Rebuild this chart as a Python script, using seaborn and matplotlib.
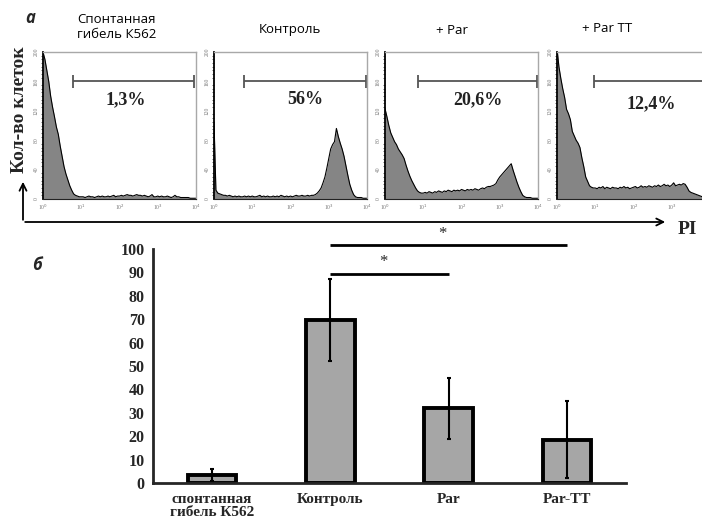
import numpy as np
import pandas as pd
import matplotlib
matplotlib.use('Agg')
import matplotlib.pyplot as plt
import seaborn as sns
from matplotlib.ticker import MultipleLocator, NullLocator, FixedLocator

# --- данные: гистограммы PI (log-шаг 0.05 от 10^0 до 10^4) ---
log_pos = np.round(np.arange(0, 4.001, 0.05), 2)

spont = [200, 190, 175, 160, 140, 125, 112, 98, 88, 72, 58, 44, 34, 26, 18, 12, 7, 5, 4, 3, 3,
         3, 2, 3, 4, 3, 3, 2, 3, 4, 3, 4, 3, 3, 4, 3, 4, 5, 3, 4, 4,
         5, 4, 5, 6, 5, 5, 4, 5, 6, 5, 5, 4, 5, 4, 3, 4, 6, 3, 3, 4,
         3, 4, 3, 3, 4, 3, 2, 3, 5, 3,
         3, 2, 2, 2, 2, 2, 1, 1, 1, 1]
control = [105,
           12, 8, 7, 6, 5, 5, 4, 5, 4, 3, 4, 3, 4, 3, 3, 4, 3, 4, 3, 4,
           3, 3, 4, 5, 3, 4, 3, 4, 3, 3, 4, 3, 4, 3, 5, 4, 3, 4, 3, 4,
           3, 4, 5, 4, 4, 5, 4, 4, 5, 4, 5, 5,
           6, 8, 11, 15, 22, 30, 42, 55, 68, 74, 78, 96, 85, 76, 68, 58, 45, 32, 20, 12, 6, 3, 2,
           2, 2, 1, 1, 1]
par = [123, 112, 100, 90, 84, 78, 74, 68, 64, 60, 55, 46, 38, 31, 25, 20, 15, 11, 9, 8, 8,
       9, 8, 10, 9, 8, 10, 9, 11, 10, 9, 11, 10, 12, 11, 10, 12, 11, 12, 11, 13,
       12, 11, 13, 12, 13, 12, 14, 13, 12, 14, 15, 14,
       16, 17, 17, 18, 19, 21, 26, 30, 33, 36, 39, 42, 45, 48, 39, 31, 23, 16, 10, 5, 3, 2, 2,
       2, 1, 1, 1, 1]
par_tt = [205, 180, 164, 150, 138, 122, 116, 108, 92, 86, 80, 76, 70, 56, 44, 30, 24, 18, 16, 15, 15,
          14, 16, 15, 17, 14, 16, 15, 14, 16, 15, 15, 14, 16, 15, 17, 15, 16, 14, 15, 16,
          17, 15, 16, 18, 16, 17, 16, 18, 17, 16, 18, 17, 19, 17, 18, 20, 18, 19, 17, 19,
          22, 18, 19, 20, 19, 21, 20,
          16, 11, 9, 8, 7, 6, 5, 4, 3, 3, 2, 2, 2]

hist_titles = ['Спонтанная\nгибель К562', 'Контроль', '+ Par', '+ Par TT']
percent_labels = ['1,3%', '56%', '20,6%', '12,4%']
gate_start = [6.2, 6.2, 7.1, 9.1]
gate_end = [8900, 9500, 9500, 9500]

# --- данные: столбчатая диаграмма ---
groups = ['спонтанная\nгибель К562', 'Контроль', 'Par', 'Par-TT']
means = [3.5, 69.5, 32, 18.5]
errs = [2.5, 17.5, 13, 16.5]
sig_pairs = [(1, 3), (1, 2)]
sig_heights = [101.5, 89.5]

sns.set_style('white')
plt.rcParams['font.family'] = ['Liberation Serif', 'DejaVu Serif']
SANS = ['Open Sans', 'DejaVu Sans']

W, H = 702, 526
fig = plt.figure(figsize=(W / 100, H / 100), dpi=100)


def rect(l, t, r, b):
    return [l / W, 1 - b / H, (r - l) / W, (b - t) / H]


chan = 10 ** log_pos
lefts = [43, 214, 385, 557]
pct_x = [148, 240, 270, 300]
pct_y = [135, 135, 135, 129]
xt_labels = ['10$^0$', '10$^1$', '10$^2$', '10$^3$', '10$^4$']
for i, counts in enumerate([spont, control, par, par_tt]):
    ax = fig.add_axes(rect(lefts[i], 52, lefts[i] + 153, 199))
    ax.fill_between(chan, counts, color='#858585', lw=0)
    sns.lineplot(x=chan, y=counts, ax=ax, color='black', lw=0.8)
    ax.set_xscale('log')
    ax.set_xlim(1, 1e4)
    ax.set_ylim(0, 200)
    # последняя панель обрезана краем рисунка — без метки 10^4
    n_xt = 4 if i == 3 else 5
    ax.set_xticks([1, 10, 100, 1000, 10000][:n_xt])
    ax.set_xticklabels(xt_labels[:n_xt], fontsize=4, color='#777777')
    ax.xaxis.set_minor_locator(NullLocator())
    ax.set_yticks(range(0, 201, 40))
    ax.set_yticklabels([str(v) for v in range(0, 201, 40)], fontsize=4, color='#777777', rotation=90, va='center')
    ax.yaxis.set_minor_locator(MultipleLocator(5))
    ax.tick_params(axis='both', which='major', direction='out', length=2, width=0.6, pad=1)
    ax.tick_params(axis='y', which='minor', direction='out', length=1.2, width=0.5, left=True)
    for s in ['top', 'right']:
        ax.spines[s].set_color('#a8a8a8')
        ax.spines[s].set_linewidth(1)
    ax.spines['left'].set_color('black')
    ax.spines['left'].set_linewidth(1.3)
    ax.spines['bottom'].set_color('#222222')
    ax.spines['bottom'].set_linewidth(0.8)
    # гейт
    ax.hlines(160, gate_start[i], gate_end[i], color='#555555', lw=1.3)
    ax.vlines([gate_start[i], gate_end[i]], 151, 169, color='#555555', lw=1.3)
    ax.text(pct_x[i], pct_y[i], percent_labels[i], ha='center', va='center',
            fontsize=13, fontweight='bold', color='#222222')

# --- столбчатая диаграмма ---
bar_ax = fig.add_axes(rect(153, 249, 626, 483))
df = pd.DataFrame({'group': groups, 'value': means})
sns.barplot(data=df, x='group', y='value', ax=bar_ax, color='#a6a6a6', saturation=1,
            width=0.41, edgecolor='black', linewidth=2.8, errorbar=None)
bar_ax.errorbar(range(len(groups)), means, yerr=errs, fmt='none', ecolor='black',
                elinewidth=1.5, capsize=1.5, capthick=1.5)
bar_ax.set_xlim(-0.5, 3.5)
bar_ax.set_ylim(0, 100)
bar_ax.set_yticks(range(0, 101, 10))
bar_ax.set_xlabel('')
bar_ax.set_ylabel('')
sns.despine(ax=bar_ax)
for s in ['left', 'bottom']:
    bar_ax.spines[s].set_linewidth(2)
bar_ax.tick_params(axis='y', length=4, width=2, direction='out', labelsize=11.5, pad=2)
bar_ax.tick_params(axis='x', which='major', length=0, labelsize=11, pad=7)
bar_ax.xaxis.set_minor_locator(FixedLocator([0.5, 1.5, 2.5]))
bar_ax.tick_params(axis='x', which='minor', length=3, width=0.8, color='#aaaaaa', direction='out')
for lab in bar_ax.get_xticklabels() + bar_ax.get_yticklabels():
    lab.set_fontweight('bold')
for lab in bar_ax.get_xticklabels():
    lab.set_linespacing(1.0)

for (a, b), h in zip(sig_pairs, sig_heights):
    bar_ax.plot([a, b], [h, h], color='black', lw=2, clip_on=False, solid_capstyle='butt')
    bar_ax.text((a + b) / 2 - 0.05, h + 1.5, '*', ha='center', va='bottom', fontsize=12, clip_on=False)

# --- подписи и стрелки поверх ---
ov = fig.add_axes([0, 0, 1, 1])
ov.set_xlim(0, W)
ov.set_ylim(H, 0)
ov.axis('off')
ov.patch.set_alpha(0)
ov.annotate('', xy=(668, 222), xytext=(22.4, 222),
            arrowprops=dict(arrowstyle='->,head_length=0.5,head_width=0.25', lw=1.3, color='black'))
ov.annotate('', xy=(23, 179), xytext=(23, 222.6),
            arrowprops=dict(arrowstyle='->,head_length=0.5,head_width=0.25', lw=1.3, color='black'))
ov.text(678, 229, 'PI', fontsize=14, fontweight='bold', va='center', ha='left')
ov.text(20, 110, 'Кол-во клеток', rotation=90, fontsize=14, fontweight='bold', ha='center', va='center')
ov.text(30, 18, 'а', fontsize=12, fontweight='bold', style='italic', family=SANS, ha='center', va='center')
ov.text(37, 265, 'б', fontsize=12, fontweight='bold', style='italic', family=SANS, ha='center', va='center')
title_x = [117, 290, 452, 607]
title_y = [27, 30, 30, 29]
for t, x, y in zip(hist_titles, title_x, title_y):
    ov.text(x, y, t, fontsize=9.5, family=SANS, color='black', ha='center', va='center', linespacing=1.15)

fig.savefig('out.png', dpi=100)
